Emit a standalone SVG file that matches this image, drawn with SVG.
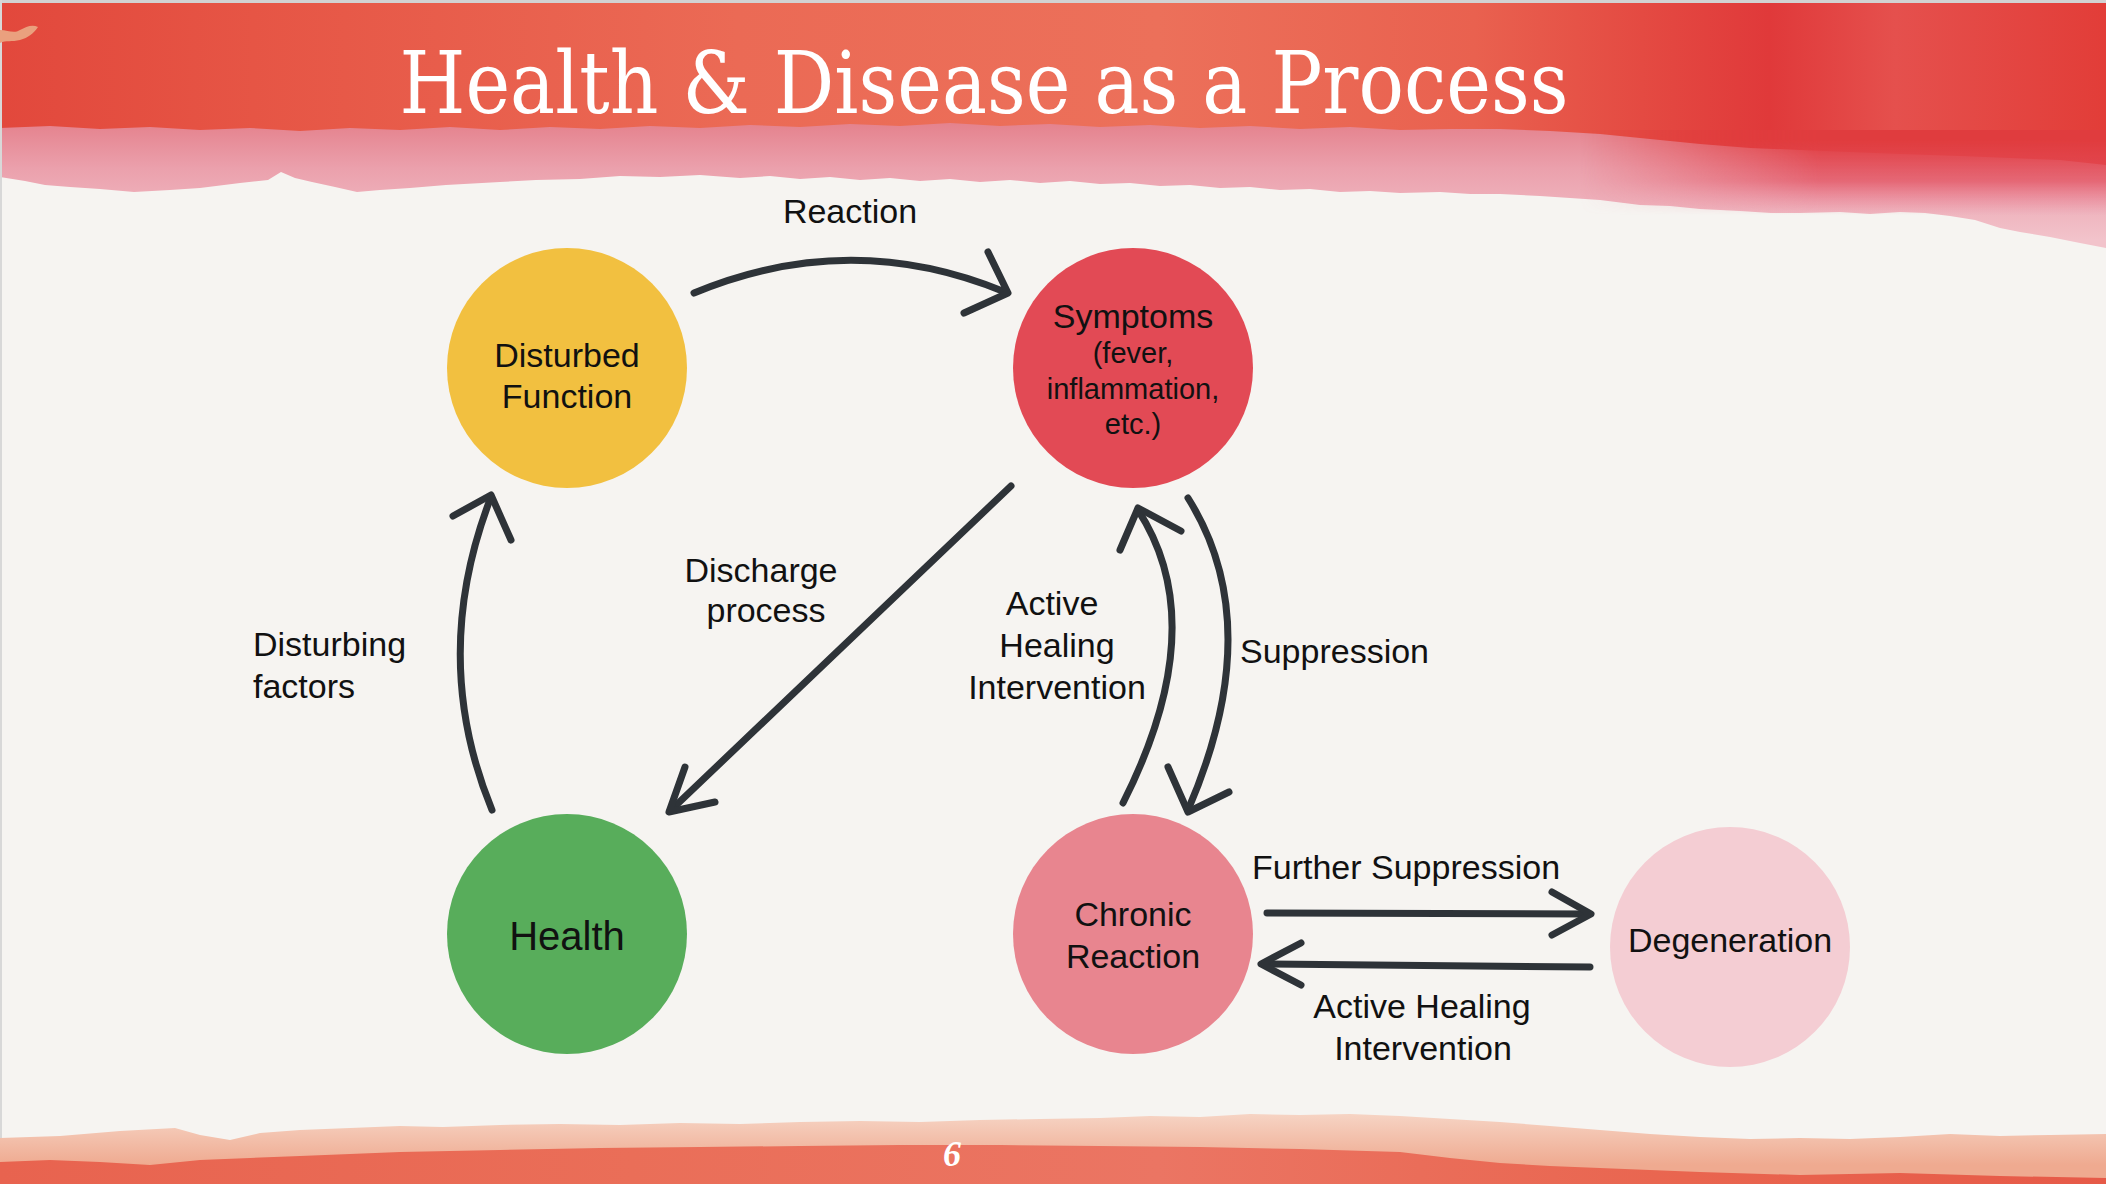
<svg xmlns="http://www.w3.org/2000/svg" width="2106" height="1184" viewBox="0 0 2106 1184">
<defs>
<style>
.ntext{font-family:"Liberation Sans",Arial,sans-serif;font-size:34px;fill:#111;text-anchor:middle}
.small{font-size:29px}
.label{font-family:"Liberation Sans",Arial,sans-serif;font-size:34px;fill:#111}
.mid{text-anchor:middle}
.conn{fill:none;stroke:#2e3338;stroke-width:7;stroke-linecap:round;stroke-linejoin:round}
.title{font-family:"DejaVu Serif","Liberation Serif",serif;font-size:86px;fill:#fff;text-anchor:middle}
</style>
<linearGradient id="redTop" x1="0" y1="0" x2="2106" y2="0" gradientUnits="userSpaceOnUse">
<stop offset="0" stop-color="#e2483c"/>
<stop offset="0.12" stop-color="#e65545"/>
<stop offset="0.35" stop-color="#eb6a55"/>
<stop offset="0.55" stop-color="#ec705a"/>
<stop offset="0.7" stop-color="#e9614f"/>
<stop offset="0.78" stop-color="#e44a42"/>
<stop offset="0.84" stop-color="#e0393a"/>
<stop offset="0.9" stop-color="#e5504d"/>
<stop offset="1" stop-color="#e23d38"/>
</linearGradient>
<linearGradient id="pinkTop" x1="0" y1="120" x2="0" y2="240" gradientUnits="userSpaceOnUse">
<stop offset="0" stop-color="#e4808b"/>
<stop offset="0.4" stop-color="#eba0ac"/>
<stop offset="1" stop-color="#f2c3cb"/>
</linearGradient>
<linearGradient id="redFadeV" x1="0" y1="140" x2="0" y2="215" gradientUnits="userSpaceOnUse">
<stop offset="0" stop-color="#e03c3e" stop-opacity="1"/>
<stop offset="0.55" stop-color="#e24d5c" stop-opacity="0.7"/>
<stop offset="1" stop-color="#e8708a" stop-opacity="0"/>
</linearGradient>
<linearGradient id="fadeH" x1="1580" y1="0" x2="1820" y2="0" gradientUnits="userSpaceOnUse">
<stop offset="0" stop-color="#fff" stop-opacity="0"/>
<stop offset="1" stop-color="#fff" stop-opacity="1"/>
</linearGradient>
<mask id="maskH" maskUnits="userSpaceOnUse" x="0" y="0" width="2106" height="300">
<rect x="1500" y="100" width="606" height="150" fill="url(#fadeH)"/>
</mask>
<linearGradient id="peachBot" x1="0" y1="1115" x2="0" y2="1165" gradientUnits="userSpaceOnUse">
<stop offset="0" stop-color="#f6d3c3"/>
<stop offset="1" stop-color="#efaa90"/>
</linearGradient>
<linearGradient id="redBot" x1="0" y1="0" x2="2106" y2="0" gradientUnits="userSpaceOnUse">
<stop offset="0" stop-color="#e8634f"/>
<stop offset="0.3" stop-color="#ea6e58"/>
<stop offset="0.55" stop-color="#eb7563"/>
<stop offset="0.8" stop-color="#e9654f"/>
<stop offset="1" stop-color="#e65a48"/>
</linearGradient>
</defs>

<g id="background">
<rect x="0" y="0" width="2106" height="1184" fill="#f6f4f1"/>
<path fill="url(#pinkTop)" d="M0,0 L2106,0 L2106,248 L2080,243 L2050,237 L2020,232 L2000,228 L1975,220 L1950,216 L1925,213 L1900,212 L1870,214 L1840,212 L1800,213 L1771,213 L1740,211 L1700,209 L1670,206 L1640,205 L1600,200 L1570,198 L1540,196 L1500,194 L1470,194 L1440,192 L1400,193 L1370,191 L1340,192 L1310,189 L1280,190 L1250,187 L1220,188 L1190,185 L1160,186 L1130,183 L1100,184 L1070,181 L1040,183 L1010,180 L980,182 L950,179 L920,181 L890,178 L860,180 L830,177 L800,179 L770,176 L740,178 L700,175 L660,177 L620,176 L580,179 L536,180 L500,182 L446,185 L410,188 L380,190 L357,192 L335,187 L312,182 L295,178 L281,172 L268,180 L240,183 L200,188 L170,190 L134,192 L100,189 L70,187 L45,185 L25,181 L0,177 Z"/>
<path fill="url(#redTop)" d="M0,0 L2106,0 L2106,165 L2060,160 L2010,158 L1960,156 L1900,154 L1850,152 L1800,150 L1750,148 L1700,144 L1650,139 L1600,134 L1550,131 L1500,129 L1450,129 L1400,130 L1350,127 L1300,129 L1250,126 L1200,128 L1150,125 L1100,127 L1050,124 L1000,126 L950,123 L900,126 L850,124 L800,127 L750,125 L700,128 L650,126 L600,129 L550,127 L500,130 L450,127 L400,130 L350,128 L300,131 L250,128 L200,130 L150,127 L100,129 L50,126 L0,128 Z"/>
<rect x="1500" y="130" width="606" height="90" fill="url(#redFadeV)" mask="url(#maskH)"/>
<rect x="0" y="0" width="2106" height="3" fill="#d2d2d2"/>
<rect x="0" y="0" width="2" height="1184" fill="#d8d8d8"/>
<path fill="#eaa07e" d="M0,30 C8,30 14,34 20,30 C26,27 32,24 38,27 C34,33 28,38 20,40 C12,42 6,40 0,43 Z"/>
<path fill="url(#peachBot)" d="M0,1184 L0,1138 L60,1136 L120,1131 L175,1128 L200,1135 L230,1140 L260,1133 L300,1130 L350,1128 L400,1126 L443,1127 L500,1125 L560,1124 L620,1125 L680,1123 L740,1124 L800,1122 L860,1121 L920,1122 L980,1120 L1040,1119 L1100,1118 L1150,1116 L1200,1117 L1250,1114 L1300,1115 L1350,1114 L1400,1116 L1450,1119 L1500,1122 L1550,1126 L1600,1130 L1650,1134 L1700,1137 L1750,1139 L1800,1138 L1850,1139 L1900,1137 L1950,1134 L2000,1136 L2050,1135 L2106,1134 L2106,1184 Z"/>
<path fill="url(#redBot)" d="M0,1184 L0,1162 L50,1160 L100,1162 L150,1165 L200,1160 L250,1158 L300,1156 L350,1154 L400,1152 L500,1150 L600,1148 L700,1147 L800,1146 L900,1145 L1000,1145 L1100,1146 L1200,1147 L1300,1149 L1400,1152 L1450,1158 L1500,1163 L1550,1166 L1600,1168 L1700,1172 L1800,1175 L1900,1173 L2000,1176 L2106,1178 L2106,1184 Z"/>
</g>

<g id="title">
<text class="title" x="984" y="113" textLength="1169" lengthAdjust="spacingAndGlyphs">Health &amp; Disease as a Process</text>
</g>

<g id="connectors">
<path class="conn" d="M694,293 Q850,228 1005,292"/>
<polyline class="conn" points="988,252 1008,293 964,313"/>
<path class="conn" d="M1011,486 L670,811"/>
<polyline class="conn" points="685,767 669,812 715,802"/>
<path class="conn" d="M492,810 Q429,657 491,497"/>
<polyline class="conn" points="453,516 491,495 511,540"/>
<path class="conn" d="M1123,803 Q1213,625 1138,510"/>
<polyline class="conn" points="1120,550 1138,508 1181,531"/>
<path class="conn" d="M1188,498 Q1268,625 1188,810"/>
<polyline class="conn" points="1168,767 1188,812 1229,792"/>
<path class="conn" d="M1267,913 L1589,914"/>
<polyline class="conn" points="1552,892 1591,914 1552,935"/>
<path class="conn" d="M1590,967 L1263,964"/>
<polyline class="conn" points="1301,943 1261,964 1301,985"/>
</g>

<g id="node-disturbed-function">
<circle cx="567" cy="368" r="120" fill="#f2c040"/>
<text class="ntext" x="567" y="367">Disturbed</text>
<text class="ntext" x="567" y="408">Function</text>
</g>
<g id="node-symptoms">
<circle cx="1133" cy="368" r="120" fill="#e24a55"/>
<text class="ntext" x="1133" y="328">Symptoms</text>
<text class="ntext small" x="1133" y="363">(fever,</text>
<text class="ntext small" x="1133" y="399">inflammation,</text>
<text class="ntext small" x="1133" y="434">etc.)</text>
</g>
<g id="node-health">
<circle cx="567" cy="934" r="120" fill="#58ad5b"/>
<text class="ntext" x="567" y="950" style="font-size:40px">Health</text>
</g>
<g id="node-chronic-reaction">
<circle cx="1133" cy="934" r="120" fill="#e8858f"/>
<text class="ntext" x="1133" y="926">Chronic</text>
<text class="ntext" x="1133" y="968">Reaction</text>
</g>
<g id="node-degeneration">
<circle cx="1730" cy="947" r="120" fill="#f4cdd3"/>
<text class="ntext" x="1730" y="952">Degeneration</text>
</g>

<g id="labels">
<text class="label mid" x="850" y="223">Reaction</text>
<text class="label mid" x="761" y="582">Discharge</text>
<text class="label mid" x="766" y="622">process</text>
<text class="label" x="253" y="656">Disturbing</text>
<text class="label" x="253" y="698">factors</text>
<text class="label mid" x="1052" y="615">Active</text>
<text class="label mid" x="1057" y="657">Healing</text>
<text class="label mid" x="1057" y="699">Intervention</text>
<text class="label" x="1240" y="663">Suppression</text>
<text class="label" x="1252" y="879">Further Suppression</text>
<text class="label mid" x="1422" y="1018">Active Healing</text>
<text class="label mid" x="1423" y="1060">Intervention</text>
</g>

<g id="page-number">
<text x="952" y="1166" style="font-family:'Liberation Serif',serif;font-size:36px;font-style:italic;font-weight:bold;fill:#fff;text-anchor:middle">6</text>
</g>
</svg>
